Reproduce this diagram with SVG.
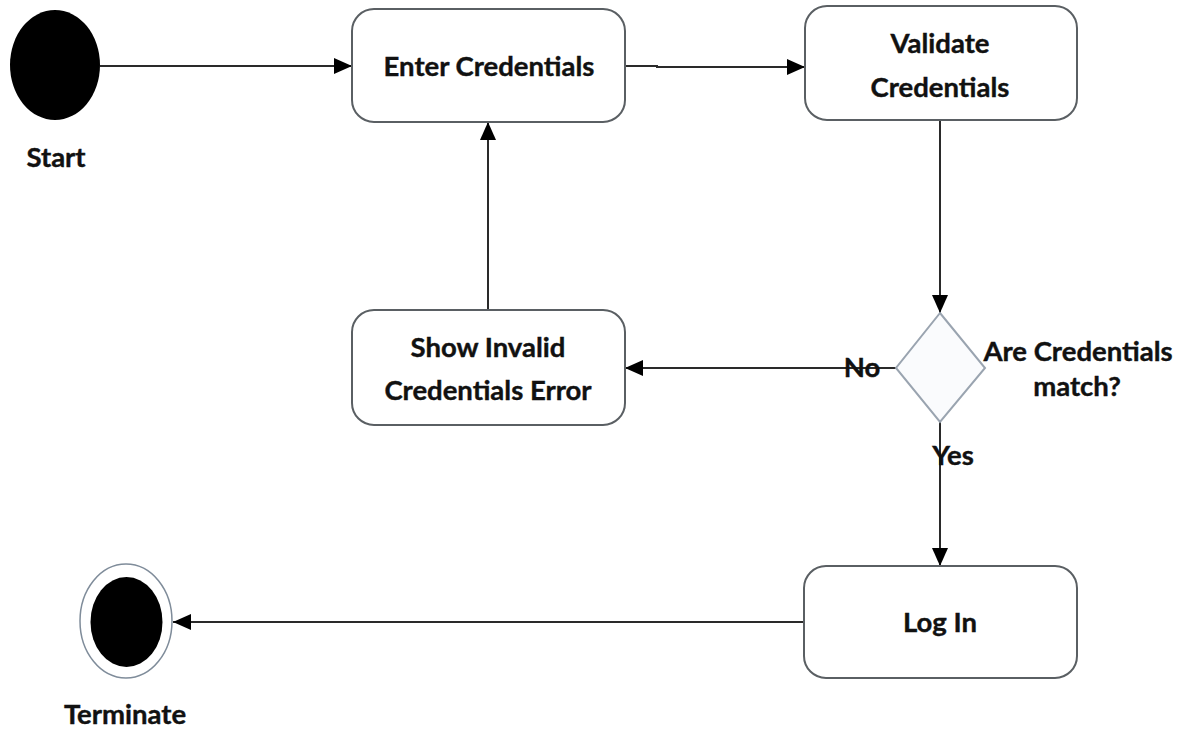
<svg xmlns="http://www.w3.org/2000/svg" width="1188" height="729" viewBox="0 0 1188 729">
  <style>
    .state { fill: #ffffff; stroke: #5a5f63; stroke-width: 2; }
    .decision { fill: #fafbfd; stroke: #9aa4b0; stroke-width: 2; }
    .edge { fill: none; stroke: #2a2a2a; stroke-width: 2; }
    .label { font-family: Lato, "Liberation Sans", sans-serif; font-weight: bold; font-size: 27.5px; fill: #111; stroke: #111; stroke-width: 0.4; text-anchor: middle; }
  </style>
  <defs>
    <marker id="arrow" viewBox="0 0 18 16" refX="18" refY="8" markerWidth="18" markerHeight="16" markerUnits="userSpaceOnUse" orient="auto">
      <path d="M0,0 L18,8 L0,16 Z" fill="#000"/>
    </marker>
  </defs>

  <rect width="1188" height="729" fill="#ffffff"/>

  <!-- connectors -->
  <g id="connectors">
    <line class="edge" x1="100" y1="66" x2="352" y2="66" marker-end="url(#arrow)"/>
    <path class="edge" d="M625,66 L657,66 L657,67 L805,67" marker-end="url(#arrow)"/>
    <line class="edge" x1="940" y1="120" x2="940" y2="313" marker-end="url(#arrow)"/>
    <line class="edge" x1="897" y1="368" x2="625" y2="368" marker-end="url(#arrow)"/>
    <line class="edge" x1="488" y1="310" x2="488" y2="122" marker-end="url(#arrow)"/>
    <line class="edge" x1="940" y1="422" x2="940" y2="566" marker-end="url(#arrow)"/>
    <line class="edge" x1="804" y1="622" x2="173" y2="622" marker-end="url(#arrow)"/>
    <text class="label" x="862" y="377">No</text>
    <text class="label" x="953" y="465">Yes</text>
  </g>

  <!-- initial node -->
  <g id="start">
    <ellipse cx="55" cy="65" rx="45" ry="55" fill="#000"/>
    <text class="label" x="56" y="167">Start</text>
  </g>

  <g id="enter-credentials">
    <rect class="state" x="352" y="9" width="273" height="113" rx="22"/>
    <text class="label" x="489" y="76">Enter Credentials</text>
  </g>

  <g id="validate-credentials">
    <rect class="state" x="805" y="6" width="272" height="114" rx="22"/>
    <text class="label" x="940" y="53">Validate</text>
    <text class="label" x="940" y="97">Credentials</text>
  </g>

  <g id="credentials-match">
    <polygon class="decision" points="940,313 985,368 940,422 896,368"/>
    <text class="label" x="1078" y="361">Are Credentials</text>
    <text class="label" x="1077" y="396">match?</text>
  </g>

  <g id="show-invalid">
    <rect class="state" x="352" y="310" width="273" height="115" rx="22"/>
    <text class="label" x="488" y="357">Show Invalid</text>
    <text class="label" x="488" y="400">Credentials Error</text>
  </g>

  <g id="log-in">
    <rect class="state" x="804" y="566" width="273" height="112" rx="22"/>
    <text class="label" x="940" y="632">Log In</text>
  </g>

  <!-- final node -->
  <g id="terminate">
    <ellipse cx="126" cy="621" rx="46" ry="57" fill="#ffffff" stroke="#7f8c9a" stroke-width="1.5"/>
    <ellipse cx="126.5" cy="622" rx="36" ry="45" fill="#000"/>
    <text class="label" x="125" y="724">Terminate</text>
  </g>
</svg>
